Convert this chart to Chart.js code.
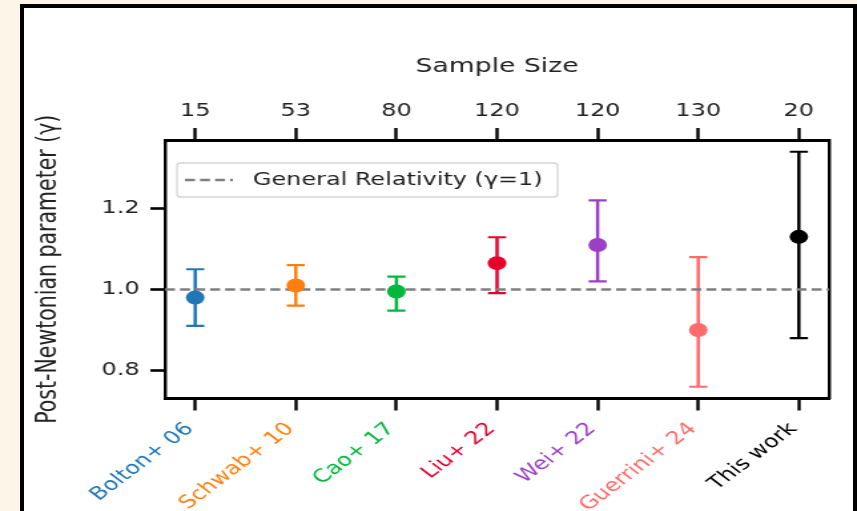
<!DOCTYPE html>
<html>
<head>
<meta charset="utf-8">
<script src="https://cdn.jsdelivr.net/npm/chart.js@4.4.1/dist/chart.umd.min.js"></script>
<style>
  html, body { margin: 0; padding: 0; width: 857px; height: 511px; overflow: hidden; background: #fdf6e8; }
  #panel { position: absolute; left: 20px; top: 4px; width: 837px; height: 560px; box-sizing: border-box;
           border: 4px solid #000; background: #fff; }
  /* the figure is stretched sideways, so the canvas is drawn narrow and widened */
  #gamma { position: absolute; left: 0; top: 0; transform-origin: 0 0; transform: scaleX(1.3307); }
</style>
</head>
<body>
<div id="panel"></div>
<canvas id="gamma" width="644" height="511"></canvas>
<script>
// measurements of the PPN parameter gamma
const categories  = ['Bolton+ 06', 'Schwab+ 10', 'Cao+ 17', 'Liu+ 22', 'Wei+ 22', 'Guerrini+ 24', 'This work'];
const sampleSizes = [15, 53, 80, 120, 120, 130, 20];
const gammaValues = [0.98, 1.01, 0.995, 1.065, 1.11, 0.90, 1.13];
const errPlus     = [0.07, 0.05, 0.037, 0.064, 0.11, 0.18, 0.21];
const errMinus    = [0.07, 0.05, 0.047, 0.074, 0.09, 0.14, 0.25];
const seriesColors = ['#1f77b4', '#ff7f0e', '#00b83c', '#e8002d', '#9b3fc6', '#ff6b6b', '#000000'];
const yTickValues = [0.8, 1.0, 1.2];
const grValue = 1.0;
const xLimits = [-0.3, 6.3];
const yLimits = [0.731, 1.369];

Chart.defaults.font.family = '"DejaVu Sans", sans-serif';
Chart.defaults.color = '#222';

// error bars: vertical line with 'line' point style as caps
const errorSets = categories.map((name, i) => ({
  label: name + ' error',
  data: [{ x: i, y: gammaValues[i] - errMinus[i] }, { x: i, y: gammaValues[i] + errPlus[i] }],
  showLine: true,
  borderColor: seriesColors[i],
  borderWidth: 2.5,
  pointStyle: 'line',
  pointRadius: 6.8,
  pointBorderColor: seriesColors[i],
  pointBorderWidth: 2.2,
  order: 2
}));

const markerSets = categories.map((name, i) => ({
  label: name,
  data: [{ x: i, y: gammaValues[i] }],
  pointRadius: 7,
  pointBackgroundColor: seriesColors[i],
  pointBorderWidth: 0,
  order: 0
}));

const grSet = {
  label: 'General Relativity (γ=1)',
  isReference: true,
  data: [{ x: xLimits[0], y: grValue }, { x: xLimits[1], y: grValue }],
  showLine: true,
  borderColor: '#7f7f7f',
  borderWidth: 2.6,
  borderDash: [7.5, 3.8],
  pointRadius: 0,
  order: 1
};

// matplotlib-like legend box in the upper left of the axes
const grLegend = {
  id: 'grLegend',
  afterDraw(chart) {
    const ds = chart.data.datasets.find(d => d.isReference);
    const { ctx, chartArea } = chart;
    const x = chartArea.left + 9, y = chartArea.top + 23, w = 286, h = 34;
    ctx.save();
    ctx.fillStyle = 'rgba(255,255,255,0.8)';
    ctx.strokeStyle = '#d4d4d4';
    ctx.lineWidth = 1.3;
    ctx.beginPath();
    ctx.roundRect(x, y, w, h, 3);
    ctx.fill();
    ctx.stroke();
    const cy = y + h / 2;
    ctx.strokeStyle = ds.borderColor;
    ctx.lineWidth = ds.borderWidth;
    ctx.setLineDash(ds.borderDash);
    ctx.beginPath();
    ctx.moveTo(x + 6, cy);
    ctx.lineTo(x + 42, cy);
    ctx.stroke();
    ctx.setLineDash([]);
    ctx.fillStyle = '#222';
    ctx.font = '18px "DejaVu Sans"';
    ctx.textBaseline = 'middle';
    ctx.fillText(ds.label, x + 57, cy);
    ctx.restore();
  }
};

const catTicks = s => { s.ticks = categories.map((_, i) => ({ value: i })); };

new Chart(document.getElementById('gamma'), {
  type: 'scatter',
  data: { datasets: [...markerSets, grSet, ...errorSets] },
  options: {
    responsive: false,
    animation: false,
    devicePixelRatio: 1,
    layout: { padding: 0 },
    plugins: { legend: { display: false }, tooltip: { enabled: false } },
    scales: {
      x: {
        type: 'linear', position: 'bottom', min: xLimits[0], max: xLimits[1],
        afterBuildTicks: catTicks,
        afterFit: s => { s.height = 112.5; },
        ticks: {
          autoSkip: false, minRotation: 45, maxRotation: 45, padding: 8, labelOffset: -4,
          font: { size: 18 },
          color: ctx => seriesColors[ctx.index],
          callback: (v, i) => categories[i]
        },
        grid: { drawOnChartArea: false, drawTicks: true, tickLength: 12, tickColor: '#000', tickWidth: 2.4 },
        border: { display: true, color: '#000', width: 3 }
      },
      x2: {
        type: 'linear', position: 'top', min: xLimits[0], max: xLimits[1],
        afterBuildTicks: catTicks,
        afterFit: s => { s.height = 140; },
        ticks: {
          autoSkip: false, minRotation: 0, maxRotation: 0, padding: 6,
          font: { size: 18 },
          callback: (v, i) => String(sampleSizes[i])
        },
        title: { display: true, text: 'Sample Size', font: { size: 20 }, padding: { top: 55, bottom: 0 } },
        grid: { drawOnChartArea: false, drawTicks: true, tickLength: 12, tickColor: '#000', tickWidth: 2.4 },
        border: { display: true, color: '#000', width: 3 }
      },
      y: {
        type: 'linear', position: 'left', min: yLimits[0], max: yLimits[1],
        afterBuildTicks: s => { s.ticks = yTickValues.map(v => ({ value: v })); },
        afterFit: s => { s.width = 124; },
        ticks: { padding: 8, font: { size: 18 }, callback: v => v.toFixed(1) },
        title: { display: true, text: 'Post-Newtonian parameter (γ)', font: { size: 20.5 }, padding: { top: 24, bottom: 0 } },
        grid: { drawOnChartArea: false, drawTicks: true, tickLength: 11, tickColor: '#000', tickWidth: 2.6 },
        border: { display: true, color: '#000', width: 2.4 }
      },
      y2: {
        type: 'linear', position: 'right', min: yLimits[0], max: yLimits[1],
        afterFit: s => { s.width = 21; },
        ticks: { display: false },
        grid: { drawOnChartArea: false, drawTicks: false },
        border: { display: true, color: '#000', width: 2.4 }
      }
    }
  },
  plugins: [grLegend]
});
</script>
</body>
</html>
